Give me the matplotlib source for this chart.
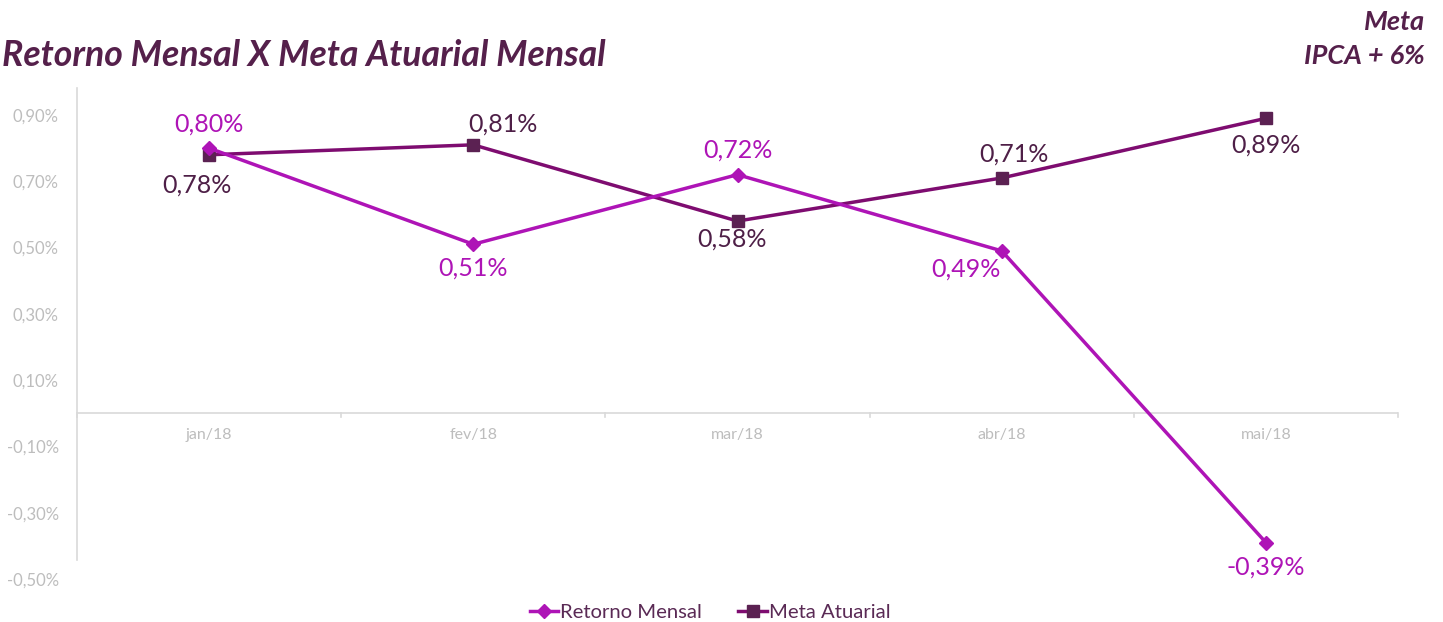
import matplotlib
matplotlib.use("Agg")
import matplotlib.pyplot as plt
from matplotlib.ticker import FuncFormatter

meses = ["jan/18", "fev/18", "mar/18", "abr/18", "mai/18"]
retorno = [0.80, 0.51, 0.72, 0.49, -0.39]
meta = [0.78, 0.81, 0.58, 0.71, 0.89]
ticks_y = [-0.50, -0.30, -0.10, 0.10, 0.30, 0.50, 0.70, 0.90]

# label offsets in pixels (dx, dy)
off_retorno = [(0, 24), (0, -24), (0, 25), (-36, -18), (0, -25)]
off_meta = [(-12, -30), (30, 21), (-6, -18), (12, 24), (0, -27)]

cor_ret = "#AE14B6"
cor_meta_linha = "#7E0C70"
cor_meta_marc = "#5B2152"
cor_meta_txt = "#4E1F47"
cor_titulo = "#55204B"

plt.rcParams["font.family"] = ["Lato", "DejaVu Sans"]


def fmt(v):
    return ("%.2f%%" % v).replace(".", ",")


def main():
    fig = plt.figure(figsize=(14.43, 6.22), dpi=100)
    ax = fig.add_axes([77 / 1443, 1 - 579 / 622, (1398 - 77) / 1443, (579 - 88) / 622])
    x = list(range(len(meses)))

    ax.plot(x, retorno, color=cor_ret, lw=2.5, marker="D", ms=7,
            label="Retorno Mensal", zorder=3)
    ax.plot(x, meta, color=cor_meta_linha, lw=2.5, marker="s", ms=8,
            mfc=cor_meta_marc, mec=cor_meta_marc, label="Meta Atuarial", zorder=2)

    for i in x:
        ax.annotate(fmt(retorno[i]), (i, retorno[i]), xytext=off_retorno[i],
                    textcoords="offset pixels", ha="center", va="center",
                    fontsize=18, color=cor_ret)
        ax.annotate(fmt(meta[i]), (i, meta[i]), xytext=off_meta[i],
                    textcoords="offset pixels", ha="center", va="center",
                    fontsize=18, color=cor_meta_txt)

    ax.set_xlim(-0.5, 4.5)
    ax.set_ylim(-0.5, 0.9 + 27 / 331.4)
    ax.set_yticks(ticks_y)
    ax.yaxis.set_major_formatter(FuncFormatter(lambda v, p: fmt(v)))
    ax.tick_params(axis="y", length=0, labelsize=12, colors="#BDBDBD", pad=13)

    # x axis line at zero with category boundary ticks
    ax.axhline(0, color="#D9D9D9", lw=1.2, zorder=1)
    ax.set_xticks([])
    for b in [-0.5, 0.5, 1.5, 2.5, 3.5, 4.5]:
        ax.plot([b, b], [0, -0.012], color="#D9D9D9", lw=1.2, clip_on=False, zorder=1)
    for i in x:
        ax.text(i, -0.065, meses[i], ha="center", va="center", fontsize=11.5,
                color="#BDBDBD")

    for s in ["top", "right", "bottom"]:
        ax.spines[s].set_visible(False)
    ax.spines["left"].set_color("#D9D9D9")
    ax.spines["left"].set_linewidth(1.2)
    ax.spines["left"].set_bounds(-0.443, 0.9 + 27 / 331.4)

    fig.text(2 / 1443, 1 - 55 / 622, "Retorno Mensal X Meta Atuarial Mensal",
             ha="left", va="center", fontsize=25.7, fontweight="bold",
             style="italic", color=cor_titulo)
    fig.text(1425 / 1443, 1 - 22 / 622, "Meta", ha="right", va="center",
             fontsize=19.5, fontweight="bold", style="italic", color=cor_titulo)
    fig.text(1425 / 1443, 1 - 56 / 622, "IPCA + 6%", ha="right", va="center",
             fontsize=19.5, fontweight="bold", style="italic", color=cor_titulo)

    leg = fig.legend(loc="center", bbox_to_anchor=(710 / 1443, 1 - 612 / 622),
                     ncol=2, frameon=False, fontsize=14.6, handlelength=1.4,
                     handletextpad=0.1, columnspacing=1.8)
    for t in leg.get_texts():
        t.set_color("#5A2A55")

    fig.savefig("out.png", dpi=100)
    plt.close(fig)


if __name__ == "__main__":
    main()
